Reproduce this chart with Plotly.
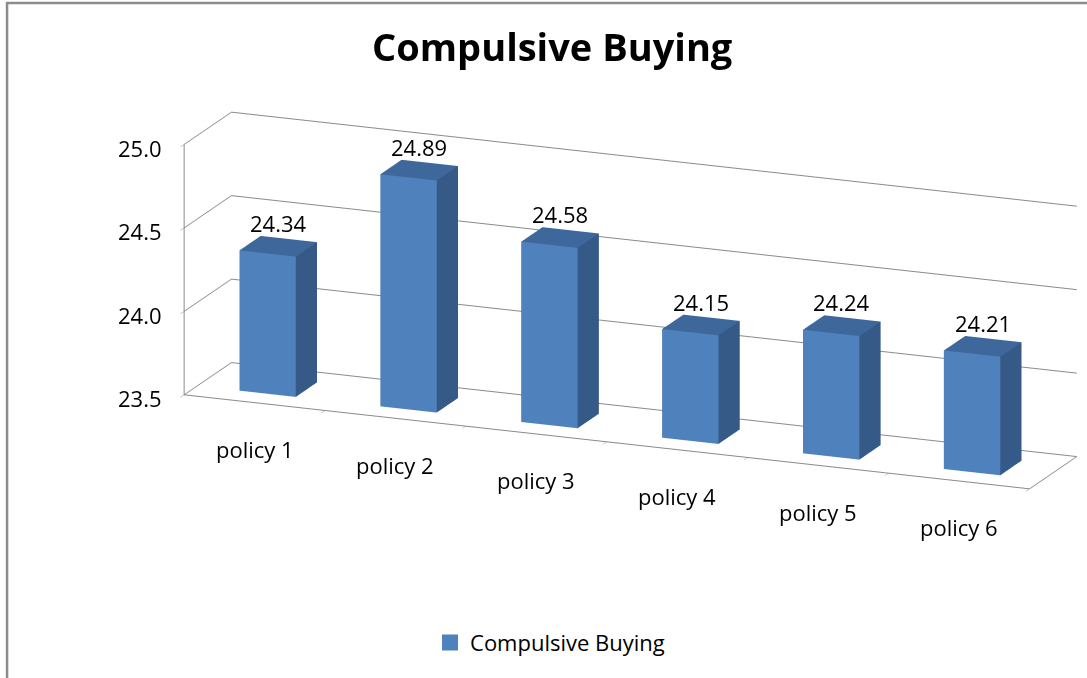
import plotly.graph_objects as go

# Chart data
categories = ["policy 1", "policy 2", "policy 3", "policy 4", "policy 5", "policy 6"]
values = [24.34, 24.89, 24.58, 24.15, 24.24, 24.21]
series_name = "Compulsive Buying"
z_ticks = [23.5, 24.0, 24.5, 25.0]

BASE = z_ticks[0]
TOP_Z = z_ticks[-1]
BAR_W = 0.40      # bar width in category units
DEPTH = 1.0       # floor depth
BAR_D = 0.45      # bar depth
FRONT = "#4F81BD"
SIDE = "#365A87"
TOP = "#3E689C"
GRID = "#8a8a8a"
FONT = "Open Sans, Lato, sans-serif"

xs, ys, zs, ii, jj, kk, fcol = [], [], [], [], [], [], []


def add_box(cx, v):
    x0, x1 = cx - BAR_W / 2, cx + BAR_W / 2
    y0, y1 = DEPTH / 2 - BAR_D / 2, DEPTH / 2 + BAR_D / 2
    n = len(xs)
    corners = [(x0, y0, BASE), (x1, y0, BASE), (x1, y1, BASE), (x0, y1, BASE),
               (x0, y0, v), (x1, y0, v), (x1, y1, v), (x0, y1, v)]
    for cx_, cy_, cz_ in corners:
        xs.append(cx_); ys.append(cy_); zs.append(cz_)
    faces = [
        ((0, 1, 5), FRONT), ((0, 5, 4), FRONT),   # front
        ((1, 2, 6), SIDE), ((1, 6, 5), SIDE),     # right side
        ((4, 5, 6), TOP), ((4, 6, 7), TOP),       # top
        ((3, 2, 6), SIDE), ((3, 6, 7), SIDE),     # back
        ((0, 3, 7), SIDE), ((0, 7, 4), SIDE),     # left
        ((0, 1, 2), SIDE), ((0, 2, 3), SIDE),     # bottom
    ]
    for (a, b, c), col in faces:
        ii.append(n + a); jj.append(n + b); kk.append(n + c); fcol.append(col)


for idx, v in enumerate(values):
    add_box(idx, v)

fig = go.Figure()
fig.add_trace(go.Mesh3d(
    x=xs, y=ys, z=zs, i=ii, j=jj, k=kk, facecolor=fcol,
    flatshading=True, hoverinfo="skip", showlegend=False,
    lighting=dict(ambient=1.0, diffuse=0.0, specular=0.0, roughness=1.0, fresnel=0.0),
))
# legend entry
fig.add_trace(go.Scatter3d(
    x=[None], y=[None], z=[None], mode="markers", name=series_name,
    marker=dict(symbol="square", size=16, color=FRONT), showlegend=True,
))

label_font = dict(family=FONT, size=22, color="black")
annotations = []
# value labels above each bar
for idx, v in enumerate(values):
    annotations.append(dict(x=idx, y=DEPTH / 2, z=v, text=f"{v:.2f}",
                            showarrow=False, yshift=23, font=label_font))
# category labels below the front floor edge
for idx, c in enumerate(categories):
    annotations.append(dict(x=idx, y=0, z=BASE, text=c, showarrow=False,
                            yshift=-47, font=label_font))
# value axis labels on the front-left edge (kept just inside the range so none is culled)
for t in z_ticks:
    annotations.append(dict(x=-0.5, y=0, z=min(t, TOP_Z - 1e-6), text=f"{t:.1f}",
                            showarrow=False, xanchor="right", xshift=-20, yshift=-4,
                            font=label_font))

axis_common = dict(showbackground=False, title=dict(text=""), showspikes=False,
                   zeroline=False)
fig.update_layout(
    width=1087, height=678,
    margin=dict(l=0, r=0, t=0, b=0),
    paper_bgcolor="white",
    title=dict(text="<b>Compulsive Buying</b>", x=0.508, y=0.93, xanchor="center",
               yanchor="middle", font=dict(family=FONT, size=38, color="black")),
    showlegend=True,
    legend=dict(orientation="h", x=0.506, xanchor="center", y=0.052, yanchor="middle",
                font=dict(family=FONT, size=22, color="black")),
    scene=dict(
        domain=dict(x=[0.16, 1.0], y=[0.2575, 0.8575]),
        aspectmode="manual",
        aspectratio=dict(x=4.48, y=0.62, z=1.28),
        camera=dict(eye=dict(x=0.720, y=-1.783, z=0.551), center=dict(x=0, y=0, z=0),
                    projection=dict(type="orthographic")),
        xaxis=dict(range=[-0.5, len(values) - 0.5],
                   tickvals=[i - 0.5 for i in range(len(values) + 1)],
                   showgrid=False, showticklabels=False, ticks="outside", ticklen=6,
                   tickcolor=GRID, showline=True, linecolor=GRID, linewidth=2,
                   **axis_common),
        yaxis=dict(range=[0, DEPTH], showgrid=False, showticklabels=False, ticks="",
                   showline=True, linecolor=GRID, linewidth=2, **axis_common),
        zaxis=dict(range=[BASE, TOP_Z], tickvals=z_ticks,
                   showticklabels=False, showgrid=True, gridcolor=GRID, gridwidth=2,
                   showline=True, linecolor=GRID, linewidth=2, ticks="outside",
                   ticklen=6, tickcolor=GRID, **axis_common),
        annotations=annotations,
    ),
    shapes=[dict(type="rect", xref="paper", yref="paper", x0=0.0065, x1=1.05,
                 y0=-0.05, y1=0.9955, line=dict(color="#8c8c8c", width=2.5))],
)

fig.write_html("out.html")
